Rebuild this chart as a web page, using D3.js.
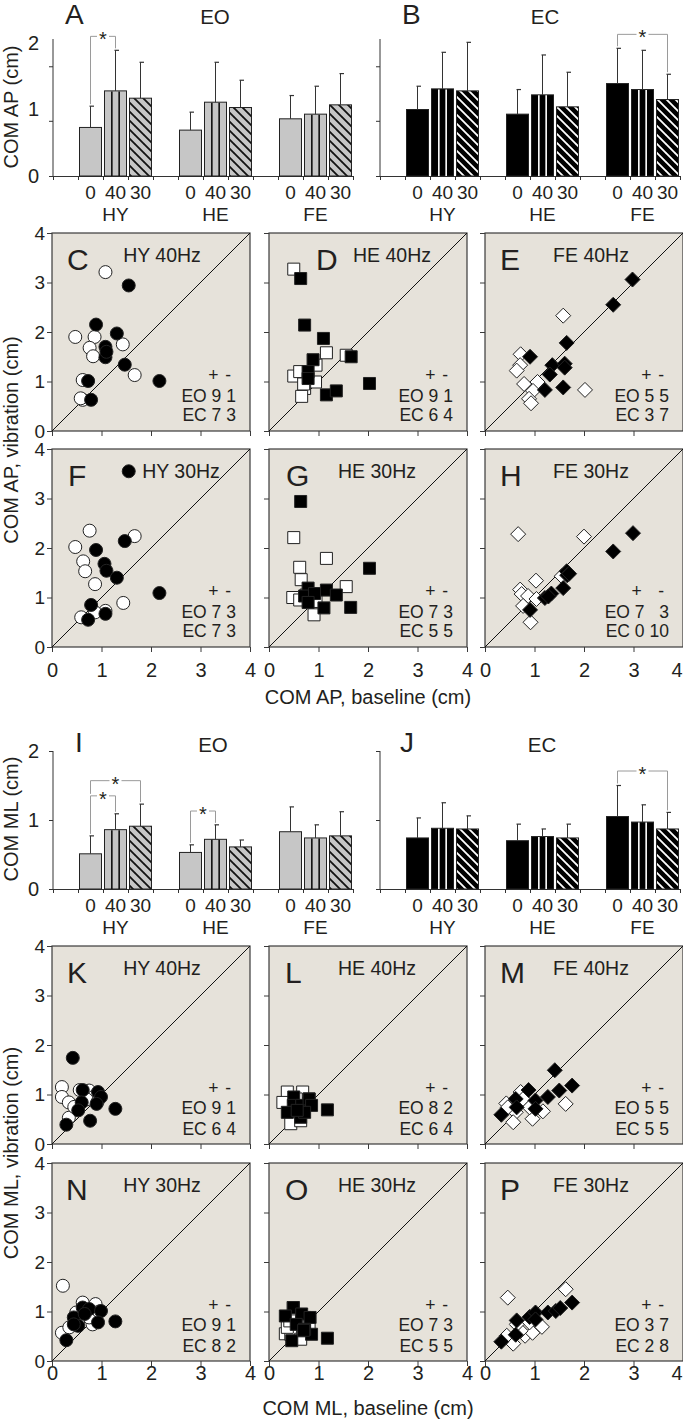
<!DOCTYPE html>
<html><head><meta charset="utf-8">
<script src="https://cdn.jsdelivr.net/npm/d3@7"></script>
<style>
body{margin:0;background:#fff}
svg text{font-family:"Liberation Sans",Arial,sans-serif;fill:#231f20}
</style>
</head><body>
<svg id="chart" width="683" height="1419"></svg>
<script>
// ---------------- DATA ----------------
const groups = ["HY", "HE", "FE"];
const freqs = ["0", "40", "30"];

// COM AP bars (order: HY0, HY40, HY30, HE0, HE40, HE30, FE0, FE40, FE30)
const apEOMean = [0.73, 1.28, 1.17, 0.69, 1.11, 1.03, 0.86, 0.93, 1.07];
const apEOErr  = [0.32, 0.61, 0.54, 0.27, 0.60, 0.41, 0.35, 0.42, 0.47];
const apECMean = [1.00, 1.31, 1.28, 0.93, 1.22, 1.04, 1.39, 1.30, 1.15];
const apECErr  = [0.35, 0.55, 0.73, 0.37, 0.60, 0.52, 0.53, 0.59, 0.38];
// COM ML bars
const mlEOMean = [0.51, 0.86, 0.91, 0.53, 0.72, 0.61, 0.83, 0.74, 0.77];
const mlEOErr  = [0.26, 0.23, 0.32, 0.11, 0.21, 0.10, 0.36, 0.19, 0.35];
const mlECMean = [0.74, 0.88, 0.87, 0.70, 0.76, 0.74, 1.05, 0.97, 0.87];
const mlECErr  = [0.29, 0.37, 0.19, 0.24, 0.11, 0.20, 0.45, 0.25, 0.24];

const apTickLabels = [0, 1, 2];
const apTickMarks  = [0, 0.83, 1.65];
const mlTickLabels = [0, 1, 2];
const mlTickMarks  = [0, 1, 2];
const scatterTicks = [0, 1, 2, 3, 4];

// significance brackets: [bar a, bar b, bracket level]
const sigApEO = [[0, 1, 2.10]];
const sigApEC = [[6, 8, 2.13]];
const sigMlEO = [[0, 1, 1.35], [0, 2, 1.57], [3, 4, 1.13]];
const sigMlEC = [[6, 8, 1.71]];

// scatter: [baseline, vibration] ; EO = open markers, EC = filled markers
const apHY40_EO = [[1.08,3.21],[0.47,1.90],[0.86,1.90],[0.76,1.68],[0.83,1.51],[1.43,1.75],[1.67,1.13],[0.62,1.03],[0.62,0.63],[0.58,0.66]];
const apHY40_EC = [[1.55,2.94],[0.89,2.15],[1.31,1.97],[1.08,1.70],[1.08,1.49],[1.47,1.34],[0.73,1.01],[0.79,0.63],[2.17,1.01],[1.10,1.60]];
const apHE40_EO = [[0.50,3.27],[1.16,1.58],[1.56,1.53],[0.95,1.33],[0.50,1.11],[0.62,1.20],[0.94,0.99],[0.72,0.86],[0.66,0.70],[0.70,0.95]];
const apHE40_EC = [[0.64,3.08],[0.72,2.14],[1.10,1.87],[0.89,1.44],[1.66,1.50],[0.79,1.20],[0.79,1.06],[1.16,0.73],[1.36,0.81],[2.03,0.96]];
const apFE40_EO = [[1.58,2.33],[0.72,1.55],[0.71,1.33],[0.64,1.22],[0.79,0.95],[1.06,0.99],[0.97,0.81],[0.89,0.65],[0.93,0.56],[2.02,0.83]];
const apFE40_EC = [[2.98,3.06],[2.59,2.55],[1.65,1.78],[0.91,1.50],[1.36,1.33],[1.61,1.36],[1.61,1.28],[1.31,1.14],[1.21,0.83],[1.58,0.88]];
const apHY30_EO = [[0.76,2.35],[0.47,2.02],[0.63,1.73],[0.67,1.53],[0.87,1.27],[1.67,2.24],[1.44,0.89],[0.59,0.60],[1.08,0.73],[0.87,0.70]];
const apHY30_EC = [[1.55,3.55],[0.89,1.96],[1.47,2.14],[1.06,1.68],[1.10,1.54],[1.31,1.40],[2.17,1.09],[0.79,0.85],[0.73,0.55],[1.08,0.67]];
const apHE30_EO = [[0.50,2.21],[1.16,1.79],[0.62,1.61],[0.65,1.36],[0.48,1.00],[1.56,1.22],[0.91,0.65],[0.95,0.92],[0.62,0.95],[0.75,1.05]];
const apHE30_EC = [[0.64,2.94],[2.03,1.59],[0.79,1.19],[1.16,1.15],[1.36,1.05],[1.11,0.79],[1.65,0.80],[0.72,1.03],[0.92,1.08],[0.79,0.90]];
const apFE30_EO = [[0.67,2.28],[2.00,2.23],[1.03,1.34],[0.71,1.16],[0.74,1.07],[0.87,1.03],[1.04,0.97],[0.77,0.83],[0.92,0.50],[1.55,1.43]];
const apFE30_EC = [[2.99,2.30],[2.59,1.93],[1.65,1.53],[1.66,1.45],[1.58,1.19],[1.34,1.08],[1.21,0.99],[1.28,1.02],[0.91,0.75],[1.70,1.48]];

const mlHY40_EO = [[0.20,1.15],[0.20,0.95],[0.34,0.84],[0.56,1.09],[0.34,0.53],[0.75,1.08],[0.84,0.95],[0.45,0.75],[0.70,0.90],[0.92,0.85]];
const mlHY40_EC = [[0.42,1.74],[0.62,1.09],[0.93,1.05],[0.99,0.95],[0.90,0.81],[0.60,0.84],[0.53,0.68],[0.77,0.47],[0.29,0.39],[1.28,0.71]];
const mlHE40_EO = [[0.37,1.05],[0.68,1.05],[0.44,0.41],[0.64,0.47],[0.77,0.81],[0.39,0.68],[0.55,0.91],[0.28,0.84],[0.81,0.91],[0.60,0.70]];
const mlHE40_EC = [[0.50,0.95],[0.49,0.78],[0.37,0.64],[0.66,0.78],[0.81,0.91],[0.86,0.78],[0.64,0.54],[0.72,0.64],[1.18,0.69],[0.57,0.68]];
const mlFE40_EO = [[0.72,1.05],[0.43,0.82],[0.62,0.64],[0.57,0.44],[0.96,0.51],[1.17,0.66],[1.63,0.81],[0.46,0.74],[0.77,0.91],[0.90,0.74]];
const mlFE40_EC = [[1.41,1.49],[0.88,1.09],[0.62,0.91],[0.64,0.74],[0.33,0.59],[1.02,0.88],[1.02,0.71],[1.27,0.95],[1.50,1.08],[1.76,1.18]];
const mlHY30_EO = [[0.22,1.52],[0.62,1.18],[0.88,1.15],[0.20,0.57],[0.35,0.68],[0.82,0.74],[0.49,0.98],[0.75,0.88],[0.95,1.00],[0.53,0.81]];
const mlHY30_EC = [[0.44,0.88],[0.62,1.08],[0.75,1.05],[0.99,1.01],[0.93,0.78],[0.53,0.71],[0.29,0.42],[1.28,0.80],[0.66,0.95],[0.44,0.74]];
const mlHE30_EO = [[0.33,0.55],[0.44,0.54],[0.64,0.44],[0.55,0.88],[0.37,0.68],[0.72,0.88],[0.49,1.08],[0.81,0.74],[0.68,0.61],[0.42,0.81]];
const mlHE30_EC = [[0.49,1.08],[0.33,0.91],[0.66,0.95],[0.83,0.88],[0.55,0.74],[0.86,0.54],[0.46,0.41],[0.72,0.64],[1.18,0.46],[0.70,0.62]];
const mlFE30_EO = [[0.46,1.28],[1.63,1.45],[0.57,0.35],[0.44,0.51],[0.81,0.51],[0.96,0.57],[1.15,0.69],[0.72,0.61],[0.90,0.78],[0.64,0.74]];
const mlFE30_EC = [[0.33,0.39],[0.62,0.53],[0.64,0.82],[0.90,0.89],[1.02,0.98],[1.02,0.84],[1.27,0.98],[1.43,1.01],[1.52,1.07],[1.76,1.18]];

// counts of (+, -) for EO and EC
const apCounts = {HY40:[[9,1],[7,3]], HE40:[[9,1],[6,4]], FE40:[[5,5],[3,7]], HY30:[[7,3],[7,3]], HE30:[[7,3],[5,5]], FE30:[[7,3],[0,10]]};
const mlCounts = {HY40:[[9,1],[6,4]], HE40:[[8,2],[6,4]], FE40:[[5,5],[5,5]], HY30:[[9,1],[8,2]], HE30:[[7,3],[5,5]], FE30:[[3,7],[2,8]]};

// ---------------- DRAWING ----------------
const FONT = "Liberation Sans, Arial, sans-serif";
const svg = d3.select("#chart");
const TXT = "#231f20", GRAY = "#c6c6c6", BG = "#e6e2da", FRAME = "#3a3a3a";
const defs = svg.append("defs");
function hatch(id, bg, fg) {
  const p = defs.append("pattern").attr("id", id).attr("patternUnits", "userSpaceOnUse")
    .attr("width", 9).attr("height", 9);
  p.append("rect").attr("width", 9).attr("height", 9).attr("fill", bg);
  p.append("path").attr("d", "M-1,-1L10,10M-5.5,3.5L0.5,9.5M3.5,-5.5L9.5,0.5")
    .attr("stroke", fg).attr("stroke-width", 1.8);
}
hatch("hatchGray", GRAY, "#111");
hatch("hatchBlack", "#000", "#fff");

function txt(g, x, y, s, size, anchor) {
  return g.append("text").attr("x", x).attr("y", y).attr("font-size", size)
    .attr("font-family", FONT).attr("text-anchor", anchor || "start").text(s);
}

function barPanel(cfg) {
  const g = svg.append("g");
  const x = d3.scaleLinear().domain([0, 12]).range([cfg.axisX, cfg.axisX + 300]);
  const y = d3.scaleLinear().domain([0, 2]).range(cfg.yRange);
  const slot = k => Math.floor(k / 3) * 4 + 1 + (k % 3);
  const cx = k => x(slot(k) + 0.5);
  const dark = cfg.fill === "#000";
  // x axis
  const xa = g.append("g").attr("transform", `translate(0,${y(0)})`)
    .call(d3.axisBottom(x).tickValues(d3.range(13)).tickSize(4).tickFormat("").tickSizeOuter(0));
  xa.select(".domain").attr("stroke", "#333");
  xa.selectAll("line").attr("stroke", "#333");
  // y axis marks
  const ya = g.append("g").attr("transform", `translate(${cfg.axisX},0)`)
    .call(d3.axisLeft(y).tickValues(cfg.tickMarks).tickSize(4).tickFormat("").tickSizeOuter(0));
  ya.select(".domain").attr("d", `M0,${cfg.axisTop}V${y(0)}`).attr("stroke", "#333");
  ya.selectAll("line").attr("stroke", "#333");
  if (cfg.showYLabels) {
    const yl = g.append("g").attr("transform", `translate(${cfg.axisX - 14},0)`)
      .call(d3.axisLeft(y).tickValues(cfg.tickLabels).tickSize(0).tickPadding(0).tickFormat(d3.format("d")));
    yl.select(".domain").remove();
    yl.selectAll("text").attr("font-size", 20).attr("font-family", FONT).attr("fill", TXT);
  }
  const data = cfg.means.map((m, k) => ({k, m, e: cfg.errs[k]}));
  // bars
  g.selectAll(".bar").data(data).join("rect")
    .attr("x", d => x(slot(d.k)) + 1.5).attr("width", x(1) - x(0) - 3)
    .attr("y", d => y(d.m)).attr("height", d => y(0) - y(d.m))
    .attr("fill", d => d.k % 3 === 2 ? (dark ? "url(#hatchBlack)" : "url(#hatchGray)") : cfg.fill)
    .attr("stroke", "#222").attr("stroke-width", 1);
  // vertical stripes for 40 Hz bars
  const stripes = [];
  data.filter(d => d.k % 3 === 1).forEach(d => { stripes.push({d, f: 1/3}); stripes.push({d, f: 2/3}); });
  g.selectAll(".stripe").data(stripes).join("line")
    .attr("x1", s => x(slot(s.d.k)) + 1.5 + (x(1) - x(0) - 3) * s.f)
    .attr("x2", s => x(slot(s.d.k)) + 1.5 + (x(1) - x(0) - 3) * s.f)
    .attr("y1", s => y(s.d.m) + 0.5).attr("y2", y(0))
    .attr("stroke", dark ? "#fff" : "#111").attr("stroke-width", 1.6);
  // error bars
  g.selectAll(".err").data(data).join("line")
    .attr("x1", d => cx(d.k)).attr("x2", d => cx(d.k))
    .attr("y1", d => y(d.m)).attr("y2", d => y(d.m + d.e))
    .attr("stroke", "#333").attr("stroke-width", 1);
  g.selectAll(".cap").data(data).join("line")
    .attr("x1", d => cx(d.k) - 1).attr("x2", d => cx(d.k) + 3.5)
    .attr("y1", d => y(d.m + d.e)).attr("y2", d => y(d.m + d.e))
    .attr("stroke", "#333").attr("stroke-width", 1.2);
  // brackets
  cfg.sig.forEach(([a, b, lev]) => {
    const legEnd = k => {
      let v = cfg.means[k] + cfg.errs[k];
      cfg.sig.forEach(([a2, b2, l2]) => { if (l2 < lev && (a2 === k || b2 === k)) v = Math.max(v, l2); });
      return y(v) - 2;
    };
    const xa1 = cx(a), xb1 = cx(b), yy = y(lev), mid = (xa1 + xb1) / 2;
    g.append("path").attr("fill", "none").attr("stroke", "#9a9a9a").attr("stroke-width", 1)
      .attr("d", `M${xa1},${legEnd(a)}V${yy}H${mid - 6}M${mid + 6},${yy}H${xb1}V${legEnd(b)}`);
    txt(g, mid, yy + 10, "*", 20, "middle");
  });
  // x labels
  data.forEach(d => txt(g, cx(d.k), y(0) + 23, freqs[d.k % 3], 19, "middle"));
  groups.forEach((gr, i) => txt(g, cx(i * 3 + 1), y(0) + 45, gr, 19, "middle"));
  // titles
  txt(g, cfg.letterX, cfg.titleY, cfg.letter, 28);
  txt(g, cfg.condX, cfg.titleY, cfg.cond, 20.5, "middle");
}

function shapePath(shape) {
  if (shape === "circle") return d3.symbol(d3.symbolCircle, Math.PI * 6.5 * 6.5)();
  if (shape === "square") return "M-6,-6H6V6H-6Z";
  return "M0,-7.5L7.5,0L0,7.5L-7.5,0Z";
}

function scatterPanel(p) {
  const S = 198;
  const g = svg.append("g");
  const x = d3.scaleLinear().domain([0, 4]).range([p.x0, p.x0 + S]);
  const y = d3.scaleLinear().domain([0, 4]).range([p.y0 + S, p.y0]);
  g.append("rect").attr("x", p.x0).attr("y", p.y0).attr("width", S).attr("height", S)
    .attr("fill", BG).attr("stroke", FRAME).attr("stroke-width", 1.2);
  const xa = g.append("g").attr("transform", `translate(0,${p.y0 + S})`)
    .call(d3.axisBottom(x).tickValues(scatterTicks).tickSize(5).tickPadding(p.xPad)
      .tickFormat(p.showX ? d3.format("d") : ""));
  xa.select(".domain").remove();
  xa.selectAll("line").attr("stroke", FRAME);
  xa.selectAll("text").attr("font-size", 20).attr("font-family", FONT).attr("fill", TXT);
  // keep the last label of the rightmost panel inside the page
  if (p.lastCol) xa.selectAll("text").filter(d => d === 4).attr("text-anchor", "end").attr("dx", -1);
  const ya = g.append("g").attr("transform", `translate(${p.x0},0)`)
    .call(d3.axisLeft(y).tickValues(scatterTicks).tickSize(5).tickPadding(2)
      .tickFormat(p.showY ? d3.format("d") : ""));
  ya.select(".domain").remove();
  ya.selectAll("line").attr("stroke", FRAME);
  ya.selectAll("text").attr("font-size", 19).attr("font-family", FONT).attr("fill", TXT);
  // identity line
  g.append("line").attr("x1", x(0)).attr("y1", y(0)).attr("x2", x(4)).attr("y2", y(4))
    .attr("stroke", "#111").attr("stroke-width", 1);
  // text
  txt(g, p.x0 + p.letterDx, p.y0 + 37, p.letter, 30);
  txt(g, p.x0 + p.titleDx, p.y0 + 29, p.title, 19.5, "middle");
  // counts table
  const R = p.x0 + S - 14;
  const cw = 9.75, sp = 4.9;
  const maxMinus = d3.max(p.counts, c => String(c[1]).length) * cw;
  const maxPlus = d3.max(p.counts, c => String(c[0]).length) * cw;
  const plusR = R - maxMinus - sp, labR = plusR - maxPlus - sp;
  txt(g, plusR - cw / 2 - 3, p.y0 + 148, "+", 17.5, "middle");
  txt(g, R - cw / 2 - 3, p.y0 + 148, "-", 17.5, "middle");
  ["EO", "EC"].forEach((lab, i) => {
    const yy = p.y0 + p.rowY[i];
    txt(g, labR, yy, lab, 17.5, "end");
    txt(g, plusR, yy, String(p.counts[i][0]), 17.5, "end");
    txt(g, R, yy, String(p.counts[i][1]), 17.5, "end");
  });
  // markers
  const path = shapePath(p.shape);
  const pts = p.open.map(d => ({d, f: "#fff"})).concat(p.filled.map(d => ({d, f: "#000"})));
  g.selectAll(".pt").data(pts).join("path")
    .attr("d", path)
    .attr("transform", o => `translate(${x(o.d[0])},${y(o.d[1])})`)
    .attr("fill", o => o.f).attr("stroke", "#222").attr("stroke-width", 1);
}

// ---- COM AP bars ----
barPanel({axisX: 53, yRange: [176, 43], axisTop: 39, tickMarks: apTickMarks, tickLabels: apTickLabels,
  showYLabels: true, means: apEOMean, errs: apEOErr, fill: GRAY, sig: sigApEO,
  letter: "A", letterX: 65, cond: "EO", condX: 215, titleY: 24});
barPanel({axisX: 380, yRange: [176, 43], axisTop: 39, tickMarks: apTickMarks, tickLabels: apTickLabels,
  showYLabels: false, means: apECMean, errs: apECErr, fill: "#000", sig: sigApEC,
  letter: "B", letterX: 402, cond: "EC", condX: 545, titleY: 24});

// ---- COM ML bars ----
barPanel({axisX: 53, yRange: [889, 751], axisTop: 751, tickMarks: mlTickMarks, tickLabels: mlTickLabels,
  showYLabels: true, means: mlEOMean, errs: mlEOErr, fill: GRAY, sig: sigMlEO,
  letter: "I", letterX: 75, cond: "EO", condX: 213, titleY: 752});
barPanel({axisX: 380, yRange: [889, 751], axisTop: 751, tickMarks: mlTickMarks, tickLabels: mlTickLabels,
  showYLabels: false, means: mlECMean, errs: mlECErr, fill: "#000", sig: sigMlEC,
  letter: "J", letterX: 400, cond: "EC", condX: 542, titleY: 752});

// ---- scatter panels ----
const colX = [52, 269, 485];
const shapes = ["circle", "square", "diamond"];
const apRows = [
  {y0: 233, freq: "40", showX: false, xPad: 3, rowY: [169, 188]},
  {y0: 449, freq: "30", showX: true, xPad: 11, rowY: [169, 188]}
];
const mlRows = [
  {y0: 946, freq: "40", showX: false, xPad: 3, rowY: [168, 189]},
  {y0: 1163, freq: "30", showX: true, xPad: 0, rowY: [168, 189]}
];
const apData = {HY40:[apHY40_EO, apHY40_EC], HE40:[apHE40_EO, apHE40_EC], FE40:[apFE40_EO, apFE40_EC],
                HY30:[apHY30_EO, apHY30_EC], HE30:[apHE30_EO, apHE30_EC], FE30:[apFE30_EO, apFE30_EC]};
const mlData = {HY40:[mlHY40_EO, mlHY40_EC], HE40:[mlHE40_EO, mlHE40_EC], FE40:[mlFE40_EO, mlFE40_EC],
                HY30:[mlHY30_EO, mlHY30_EC], HE30:[mlHE30_EO, mlHE30_EC], FE30:[mlFE30_EO, mlFE30_EC]};
const apLetters = ["C","D","E","F","G","H"], mlLetters = ["K","L","M","N","O","P"];
const apLetterDx = [15, 47, 15, 16, 17, 15], mlLetterDx = [15, 16, 15, 14, 16, 15];
const apTitleDx = [110, 123, 106, 129, 108, 106], mlTitleDx = [110, 108, 106, 110, 108, 106];

function scatterSection(rows, dataMap, counts, letters, letterDx, titleDx) {
  rows.forEach((r, ri) => {
    groups.forEach((gr, ci) => {
      const key = gr + r.freq, idx = ri * 3 + ci;
      scatterPanel({x0: colX[ci], y0: r.y0, showX: r.showX, showY: ci === 0, xPad: r.xPad, rowY: r.rowY,
        lastCol: ci === 2,
        open: dataMap[key][0], filled: dataMap[key][1], shape: shapes[ci],
        letter: letters[idx], letterDx: letterDx[idx], title: `${gr} ${r.freq}Hz`, titleDx: titleDx[idx],
        counts: counts[key]});
    });
  });
}
scatterSection(apRows, apData, apCounts, apLetters, apLetterDx, apTitleDx);
scatterSection(mlRows, mlData, mlCounts, mlLetters, mlLetterDx, mlTitleDx);

// ---- axis titles ----
function vtext(x, y, s) {
  svg.append("text").attr("transform", `translate(${x},${y}) rotate(-90)`).attr("text-anchor", "middle")
    .attr("font-size", 20).attr("font-family", FONT).text(s);
}
vtext(18, 107, "COM AP (cm)");
vtext(18, 440, "COM AP, vibration (cm)");
vtext(18, 819, "COM ML (cm)");
vtext(18, 1153, "COM ML, vibration (cm)");
txt(svg, 368, 704, "COM AP, baseline (cm)", 20, "middle");
txt(svg, 368, 1415, "COM ML, baseline (cm)", 20, "middle");
</script>
</body></html>
